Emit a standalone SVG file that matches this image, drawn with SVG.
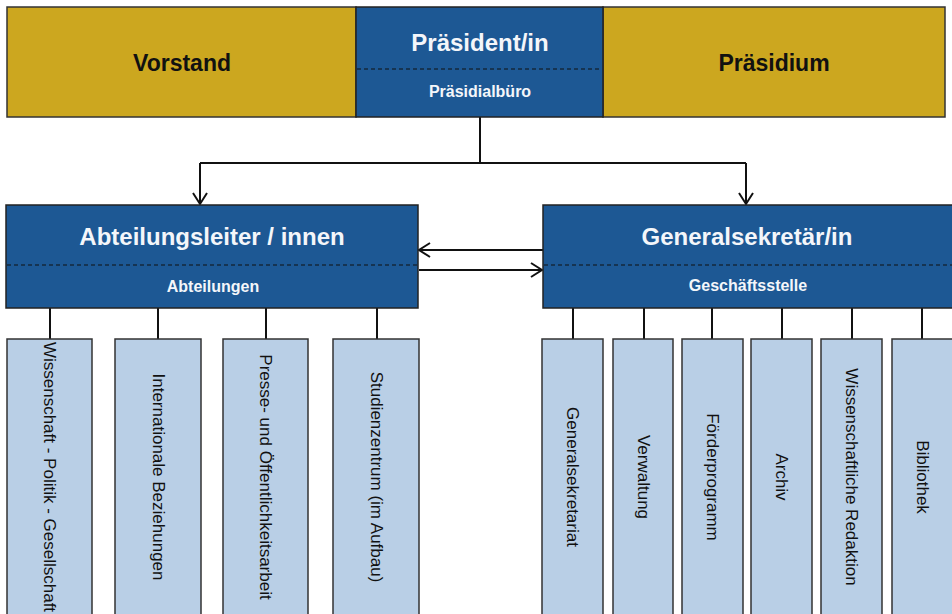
<svg xmlns="http://www.w3.org/2000/svg" width="952" height="614" viewBox="0 0 952 614">
<style>
.gold{fill:#CCA71F;stroke:#333;stroke-width:1.5}
.blue{fill:#1D5894;stroke:#222;stroke-width:1.5}
.child{fill:#B9CFE6;stroke:#333;stroke-width:1.5}
.dash{stroke:#111;stroke-width:1.2;stroke-dasharray:4 3;fill:none}
.hd{font-family:"Liberation Sans",Arial,sans-serif;font-weight:bold;font-size:23px;fill:#111;text-anchor:middle;dominant-baseline:central}
.wt{font-family:"Liberation Sans",Arial,sans-serif;font-weight:bold;font-size:24px;fill:#F4F6FA;text-anchor:middle;dominant-baseline:central}
.ws{font-family:"Liberation Sans",Arial,sans-serif;font-weight:bold;font-size:16px;fill:#F4F6FA;text-anchor:middle;dominant-baseline:central}
.ct{font-family:"Liberation Sans",Arial,sans-serif;font-size:17px;fill:#111;text-anchor:middle;dominant-baseline:central}
.ln{stroke:#111;stroke-width:2;fill:none}
</style>
<defs>
<marker id="arr" markerUnits="userSpaceOnUse" markerWidth="16" markerHeight="16" viewBox="0 0 16 16" refX="14" refY="8" orient="auto">
<path d="M3,1 L14,8 L3,15" fill="none" stroke="#111" stroke-width="2"/>
</marker>
</defs>
<rect width="952" height="614" fill="#fff"/>
<g id="connectors">
<path class="ln" d="M480,117 V163 M200,163 H746"/>
<path class="ln" d="M200,163 V204" marker-end="url(#arr)"/>
<path class="ln" d="M746,163 V204" marker-end="url(#arr)"/>
<path class="ln" d="M543,250 H419" marker-end="url(#arr)"/>
<path class="ln" d="M419,270 H542" marker-end="url(#arr)"/>
<path class="ln" d="M50,308 V339 M158,308 V339 M266,308 V339 M377,308 V339"/>
<path class="ln" d="M573,308 V339 M644,308 V339 M712,308 V339 M782,308 V339 M852,308 V339 M922,308 V339"/>
</g>
<g id="vorstand"><rect class="gold" x="7" y="7" width="349" height="110"/><text class="hd" x="182" y="63">Vorstand</text></g>
<g id="praesidium"><rect class="gold" x="603" y="7" width="342" height="110"/><text class="hd" x="774" y="63">Präsidium</text></g>
<g id="praesident"><rect class="blue" x="356" y="7" width="247" height="110"/><line class="dash" x1="357" y1="69" x2="602" y2="69"/><text class="wt" x="480" y="42">Präsident/in</text><text class="ws" x="480" y="91">Präsidialbüro</text></g>
<g id="abteilungsleiter"><rect class="blue" x="6" y="205" width="412" height="103"/><line class="dash" x1="7" y1="265" x2="417" y2="265"/><text class="wt" x="212" y="236">Abteilungsleiter / innen</text><text class="ws" x="213" y="286">Abteilungen</text></g>
<g id="generalsekretaer"><rect class="blue" x="543" y="205" width="412" height="103"/><line class="dash" x1="544" y1="265" x2="952" y2="265"/><text class="wt" x="747" y="236">Generalsekretär/in</text><text class="ws" x="748" y="285">Geschäftsstelle</text></g>
<g id="c-wpg"><rect class="child" x="7" y="339" width="85" height="290"/><text class="ct" transform="translate(49.5,477) rotate(90)">Wissenschaft - Politik - Gesellschaft</text></g>
<g id="c-ib"><rect class="child" x="115" y="339" width="86" height="290"/><text class="ct" transform="translate(158,477) rotate(90)">Internationale Beziehungen</text></g>
<g id="c-pr"><rect class="child" x="223" y="339" width="85" height="290"/><text class="ct" transform="translate(265.5,477) rotate(90)">Presse- und Öffentlichkeitsarbeit</text></g>
<g id="c-sz"><rect class="child" x="333" y="339" width="86" height="290"/><text class="ct" transform="translate(376,477) rotate(90)">Studienzentrum (im Aufbau)</text></g>
<g id="c-gs"><rect class="child" x="542" y="339" width="61" height="290"/><text class="ct" transform="translate(572.5,477) rotate(90)">Generalsekretariat</text></g>
<g id="c-vw"><rect class="child" x="613" y="339" width="60" height="290"/><text class="ct" transform="translate(643,477) rotate(90)">Verwaltung</text></g>
<g id="c-fp"><rect class="child" x="682" y="339" width="61" height="290"/><text class="ct" transform="translate(712.5,477) rotate(90)">Förderprogramm</text></g>
<g id="c-ar"><rect class="child" x="751" y="339" width="61" height="290"/><text class="ct" transform="translate(781.5,477) rotate(90)">Archiv</text></g>
<g id="c-wr"><rect class="child" x="821" y="339" width="61" height="290"/><text class="ct" transform="translate(851.5,477) rotate(90)">Wissenschaftliche Redaktion</text></g>
<g id="c-bi"><rect class="child" x="892" y="339" width="65" height="290"/><text class="ct" transform="translate(922.5,477) rotate(90)">Bibliothek</text></g>
</svg>
